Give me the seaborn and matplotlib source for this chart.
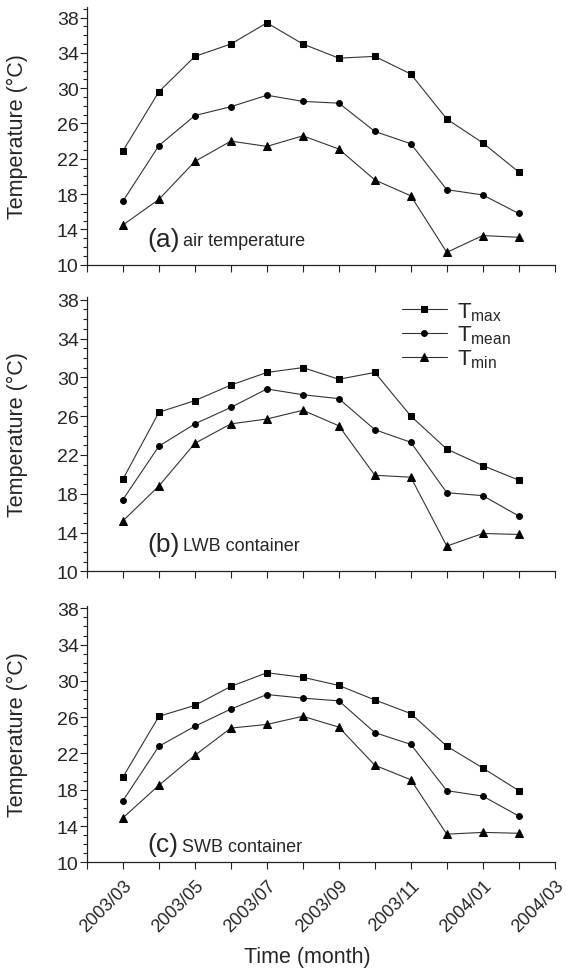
import numpy as np
import pandas as pd
import seaborn as sns
import matplotlib.pyplot as plt
from matplotlib.ticker import FixedLocator, MultipleLocator, NullFormatter

# --- data ---
months = ['2003/03', '2003/04', '2003/05', '2003/06', '2003/07', '2003/08',
          '2003/09', '2003/10', '2003/11', '2003/12', '2004/01', '2004/02']
tick_labels = ['2003/03', '2003/05', '2003/07', '2003/09', '2003/11', '2004/01', '2004/03']

# (a) air temperature
air_tmax = [22.9, 29.6, 33.6, 35.0, 37.4, 35.0, 33.4, 33.6, 31.6, 26.5, 23.8, 20.5]
air_tmean = [17.2, 23.5, 26.9, 27.9, 29.2, 28.5, 28.3, 25.1, 23.7, 18.5, 17.9, 15.8]
air_tmin = [14.5, 17.4, 21.7, 24.0, 23.4, 24.6, 23.1, 19.6, 17.8, 11.4, 13.3, 13.1]

# (b) LWB container
lwb_tmax = [19.5, 26.4, 27.6, 29.2, 30.5, 31.0, 29.8, 30.5, 26.0, 22.6, 20.9, 19.4]
lwb_tmean = [17.4, 22.9, 25.2, 26.9, 28.8, 28.2, 27.8, 24.6, 23.3, 18.1, 17.8, 15.7]
lwb_tmin = [15.2, 18.8, 23.2, 25.2, 25.7, 26.6, 25.0, 19.9, 19.7, 12.6, 13.9, 13.8]

# (c) SWB container
swb_tmax = [19.4, 26.1, 27.3, 29.4, 30.9, 30.4, 29.5, 27.9, 26.4, 22.8, 20.4, 17.9]
swb_tmean = [16.8, 22.8, 25.0, 26.9, 28.5, 28.1, 27.8, 24.3, 23.0, 17.9, 17.3, 15.1]
swb_tmin = [14.9, 18.5, 21.8, 24.8, 25.2, 26.1, 24.9, 20.7, 19.1, 13.1, 13.3, 13.2]

panels = [
    ('(a)', 'air temperature', air_tmax, air_tmean, air_tmin),
    ('(b)', 'LWB container', lwb_tmax, lwb_tmean, lwb_tmin),
    ('(c)', 'SWB container', swb_tmax, swb_tmean, swb_tmin),
]

sns.set_style('ticks')
plt.rcParams['font.family'] = ['Liberation Sans', 'DejaVu Sans']
plt.rcParams['mathtext.default'] = 'regular'

fig = plt.figure(figsize=(5.67, 9.70), dpi=100)
# axes boxes in figure fraction: left, bottom, width, height
boxes = [(0.1534, 0.7261, 0.8250, 0.2657),
         (0.1534, 0.4100, 0.8250, 0.2830),
         (0.1534, 0.1100, 0.8250, 0.2646)]
ytops = [39.2, 38.3, 38.3]

x = np.arange(len(months))
series_style = [('Tmax', 's', 4.2), ('Tmean', 'o', 4.2), ('Tmin', '^', 5.2)]
line_col = '#333333'

for i, (tag, name, tmax, tmean, tmin) in enumerate(panels):
    ax = fig.add_axes(boxes[i])
    handles = []
    for (label, mk, ms), vals in zip(series_style, [tmax, tmean, tmin]):
        sns.lineplot(x=x, y=vals, ax=ax, color=line_col, linewidth=0.8,
                     marker=mk, markersize=ms, markerfacecolor='black',
                     markeredgecolor='black', legend=False)
        handles.append(ax.lines[-1])

    ax.set_xlim(-1, 12)
    ax.set_ylim(10, ytops[i])
    ax.yaxis.set_major_locator(FixedLocator([10, 14, 18, 22, 26, 30, 34, 38]))
    ax.yaxis.set_minor_locator(MultipleLocator(1))
    ax.xaxis.set_major_locator(FixedLocator([0, 2, 4, 6, 8, 10, 12]))
    ax.xaxis.set_minor_locator(FixedLocator([-1, 1, 3, 5, 7, 9, 11]))
    ax.tick_params(axis='both', which='major', direction='out', length=5,
                   width=0.8, labelsize=14, pad=1, color='#222222')
    ax.tick_params(axis='x', which='minor', direction='out', length=5,
                   width=0.8, color='#222222')
    ax.tick_params(axis='y', which='minor', direction='out', length=3,
                   width=0.8, color='#222222')
    sns.despine(ax=ax)
    for sp in ['left', 'bottom']:
        ax.spines[sp].set_linewidth(0.9)
        ax.spines[sp].set_color('#222222')

    ax.set_ylabel('Temperature (°C)', fontsize=15.5)
    ax.yaxis.set_label_coords(-0.126, 0.5)

    if i < 2:
        ax.xaxis.set_major_formatter(NullFormatter())
        ax.set_xlabel('')
    else:
        ax.set_xticklabels(tick_labels, rotation=45, ha='right', va='top',
                           rotation_mode='anchor', fontsize=13)
        ax.tick_params(axis='x', which='major', pad=5)
        ax.set_xlabel('Time (month)', fontsize=15.5)
        ax.xaxis.set_label_coords(0.47, -0.325)

    ty = [0.10, 0.10, 0.071][i]
    t1 = ax.text(0.13, ty, tag, transform=ax.transAxes, fontsize=19,
                 va='center', ha='left')
    ax.annotate(name, xy=(1, 0), xycoords=t1, xytext=(2, 4.0),
                textcoords='offset points', fontsize=13, va='baseline', ha='left')

    if i == 1:
        ax.legend(handles, [r'T$_{max}$', r'T$_{mean}$', r'T$_{min}$'],
                  loc='upper left', bbox_to_anchor=(0.655, 1.02), frameon=False,
                  fontsize=16, handlelength=2.0, handletextpad=0.45,
                  labelspacing=0.05, borderaxespad=0)

fig.savefig('out.png', dpi=100, facecolor='white')
